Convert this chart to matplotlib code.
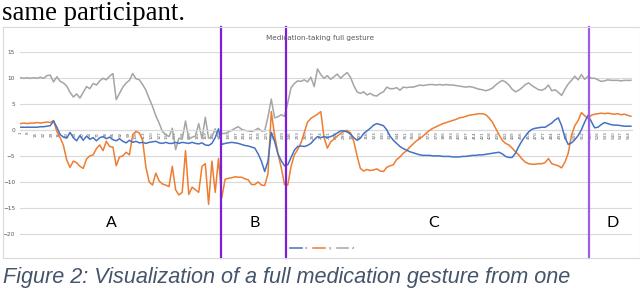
import matplotlib
matplotlib.use("Agg")
import matplotlib.pyplot as plt
import numpy as np
from matplotlib.patches import Rectangle

# accelerometer axes, one reading every 3rd sample of the gesture
acc_x = [0.5, 0.5, 0.5, 0.5, 0.5, 0.5, 0.6, 0.6, 0.7, 0.8,
         1.7, 0.5, -0.9, -1.4, -1.6, -0.5, -1.5, -2.1, -1.1, -2.0,
         -1.2, -1.8, -1.5, -2.1, -1.5, -1.3, -1.7, -1.4, -1.9, -2.1,
         -1.7, -2.2, -2.5, -2.0, -2.4, -2.2, -2.5, -2.4, -2.6, -2.4,
         -2.3, -2.2, -2.5, -2.6, -2.4, -2.6, -2.6, -2.4, -2.6, -2.4,
         -2.5, -2.6, -2.4, -2.6, -2.7, -2.5, -2.9, -3.0, -2.6, -1.5,
         0.2, -2.8, -2.6, -2.5, -2.4, -2.5, -2.6, -2.8, -3.0, -3.1,
         -3.3, -3.5, -4.6, -6.0, -8.0, -6.0, -0.5, -2.2, -4.6, -5.9,
         -6.9, -6.7, -5.3, -3.9, -3.2, -3.1, -3.2, -3.0, -2.6, -1.9,
         -1.3, -1.5, -1.3, -1.5, -1.3, -1.0, -0.6, -0.2, -0.2, -0.4,
         -0.8, -1.5, -2.0, -1.6, -0.7, -0.2, 0.3, 0.9, 1.2, 1.0,
         0.8, 0.0, -1.2, -2.0, -2.6, -3.2, -3.6, -3.9, -4.2, -4.4,
         -4.6, -4.8, -4.9, -4.9, -4.9, -5.0, -5.0, -5.0, -5.1, -5.1,
         -5.1, -5.2, -5.2, -5.2, -5.1, -5.1, -5.0, -4.9, -4.9, -4.8,
         -4.8, -4.7, -4.6, -4.5, -4.4, -4.3, -4.6, -5.1, -5.3, -5.3,
         -4.5, -3.2, -2.1, -1.2, -0.4, 0.1, 0.3, 0.4, 0.5, 0.5,
         0.9, 1.3, 1.9, 2.3, 0.8, -1.5, -2.8, -2.5, -1.9, -1.1,
         0.0, 1.5, 2.8, 1.6, 0.4, 0.5, 1.0, 1.4, 1.2, 1.0,
         0.9, 0.9, 0.8, 0.7, 0.7, 0.7]

acc_y = [1.2, 1.3, 1.2, 1.3, 1.3, 1.4, 1.3, 1.4, 1.5, 1.4,
         1.8, -0.3, -1.5, -3.0, -5.8, -7.2, -6.0, -6.3, -7.0, -7.4,
         -5.6, -5.0, -4.8, -3.6, -2.9, -4.0, -2.2, -3.2, -3.3, -6.9,
         -5.2, -5.0, -4.3, -4.8, -0.9, -0.3, -0.6, -2.0, -7.2, -10.0,
         -10.6, -8.3, -9.8, -10.4, -10.6, -10.9, -7.0, -11.5, -12.5, -12.0,
         -4.0, -12.4, -11.0, -11.5, -12.0, -7.0, -6.5, -14.3, -6.0, -12.0,
         -5.5, -13.0, -9.5, -9.3, -9.2, -9.0, -9.1, -9.1, -9.4, -9.6,
         -10.5, -10.5, -10.0, -10.6, -10.7, -8.4, 3.5, -1.0, -4.5, -7.2,
         -10.5, -10.6, -7.0, -4.8, -3.8, -2.5, -0.5, 1.5, 2.2, 2.6,
         3.0, 3.5, -1.5, -3.5, -2.3, -1.8, -1.2, -0.7, -0.3, -0.1,
         -0.6, -2.2, -5.0, -7.4, -7.9, -7.6, -7.8, -7.7, -7.5, -7.9,
         -8.0, -7.2, -6.9, -6.7, -5.7, -5.2, -4.5, -4.0, -3.3, -2.7,
         -2.1, -1.7, -1.2, -0.6, -0.1, 0.3, 0.6, 0.9, 1.2, 1.4,
         1.6, 1.8, 2.0, 2.3, 2.4, 2.6, 2.8, 2.9, 3.0, 3.1,
         3.1, 2.9, 2.3, 1.5, 0.3, -0.9, -2.0, -2.6, -2.9, -3.5,
         -4.2, -4.8, -5.6, -6.2, -6.5, -6.6, -6.6, -6.5, -6.5, -6.3,
         -5.5, -6.5, -6.7, -6.9, -7.3, -6.2, -4.5, -1.0, 0.8, 1.8,
         3.3, 2.7, 2.2, 2.8, 3.0, 3.1, 3.2, 3.1, 3.2, 3.1,
         3.0, 3.1, 2.9, 3.0, 2.8, 2.6]

acc_z = [10.0, 9.9, 10.0, 9.9, 10.0, 9.9, 10.1, 9.9, 10.4, 10.5,
         9.2, 10.2, 9.3, 9.0, 8.4, 7.2, 6.3, 6.9, 6.1, 7.2,
         8.3, 7.9, 8.9, 8.6, 9.4, 9.9, 9.6, 10.3, 10.8, 5.8,
         7.0, 8.2, 9.0, 9.5, 10.8, 9.8, 9.6, 8.7, 7.6, 6.0,
         4.5, 2.7, 1.3, -0.3, -0.9, -1.3, 0.3, -3.8, -1.6, -1.8,
         1.7, -1.8, -1.4, -1.2, 1.2, -1.7, 2.4, -1.6, -1.4, 0.2,
         -1.7, -0.7, -0.7, -0.4, -0.1, 0.3, 0.6, 0.1, -0.1, -0.2,
         -0.3, -0.1, 0.3, -0.2, -0.2, 2.5, 5.9, 2.3, 2.5, 2.9,
         2.6, 5.2, 8.1, 8.9, 9.4, 9.3, 9.6, 9.2, 10.1, 8.3,
         11.7, 10.6, 9.9, 10.4, 9.7, 10.2, 10.7, 9.9, 10.5, 11.0,
         10.1, 8.5, 7.3, 7.0, 7.3, 6.7, 7.0, 6.6, 6.5, 7.0,
         7.3, 8.2, 7.9, 7.9, 8.1, 7.6, 8.2, 8.1, 8.2, 8.2,
         8.4, 8.6, 8.5, 8.6, 8.7, 8.7, 8.6, 8.7, 8.6, 8.7,
         8.6, 8.6, 8.5, 8.4, 8.3, 8.2, 8.3, 8.2, 8.0, 7.8,
         7.7, 7.5, 7.7, 8.0, 8.6, 9.1, 9.5, 9.2, 8.6, 7.8,
         7.3, 7.6, 8.1, 8.7, 9.0, 8.5, 8.1, 7.7, 7.6, 7.9,
         8.6, 7.5, 7.7, 7.2, 6.6, 7.8, 8.8, 9.5, 10.3, 9.6,
         10.6, 9.7, 10.3, 9.9, 9.9, 9.6, 9.3, 9.4, 9.6, 9.5,
         9.5, 9.5, 9.4, 9.5, 9.5, 9.5]

samples = np.arange(1, 3 * len(acc_x) + 1, 3)

# phase boundaries (sample index) and phase names
boundaries = [183, 242, 518]
phases = ["A", "B", "C", "D"]

x_ticklabels = list(range(1, 557, 7))

C_X, C_Y, C_Z = "#4472C4", "#ED7D31", "#A5A5A5"
GRID = "#D9D9D9"
TXT = "#595959"
W, H = 640, 288

fig = plt.figure(figsize=(6.4, 2.88), dpi=100)
fig.patch.set_facecolor("white")

# chart frame
fig.add_artist(Rectangle((3 / W, 1 - 258 / H), 1 - 3 / W, (258 - 27) / H,
                         transform=fig.transFigure, fill=False,
                         edgecolor=GRID, linewidth=0.8))

ax = fig.add_axes([20 / W, 1 - 258 / H, 612 / W, (258 - 51.7) / H])
ax.set_facecolor("none")

ax.plot(samples, acc_x, color=C_X, lw=1.1, label="x", zorder=4)
ax.plot(samples, acc_y, color=C_Y, lw=1.1, label="y", zorder=3)
ax.plot(samples, acc_z, color=C_Z, lw=1.1, label="z", zorder=2)

ax.set_xlim(0.5, 557)
ax.set_ylim(-24.6, 15)
ax.set_yticks(np.arange(-20, 16, 5))
ax.grid(axis="y", color=GRID, linewidth=0.8)
ax.set_axisbelow(True)
for side in ["top", "right", "left"]:
    ax.spines[side].set_visible(False)
ax.spines["bottom"].set_position(("data", 0))
ax.spines["bottom"].set_color(GRID)
ax.spines["bottom"].set_linewidth(0.8)
ax.tick_params(axis="y", length=0, labelsize=4.2, labelcolor=TXT, pad=3.5)
ax.set_xticks(x_ticklabels)
ax.set_xticklabels([str(v) for v in x_ticklabels], rotation=90)
ax.tick_params(axis="x", length=0, labelsize=3, labelcolor=TXT, pad=1.2)

# phase boundary markers (drawn across the whole chart box)
top_frac = (258 - 27) / (258 - 51.7)
for i, b in enumerate(boundaries):
    col = "#7B1FD8" if i < 2 else "#A05CE8"
    ax.axvline(b, ymin=0, ymax=top_frac, color=col, lw=1.6, clip_on=False, zorder=6)

ax.legend(loc="center", bbox_to_anchor=(322 / W, 1 - 248 / H),
          bbox_transform=fig.transFigure, ncol=3, frameon=False,
          fontsize=3, handlelength=2.8, handletextpad=0.9, columnspacing=1.3,
          labelcolor=TXT)

fig.text(320 / W, 1 - 38 / H, "Medication-taking full gesture",
         ha="center", va="center", fontsize=5.2, color=TXT)

for name, xp in zip(phases, [111.7, 254.3, 433.3, 612.7]):
    fig.text(xp / W, 1 - 223 / H, name, ha="center", va="center",
             fontsize=11.5, family="Lato", color="black")

fig.text(1.5 / W, 1 - 20 / H, "same participant.", ha="left", va="baseline",
         fontsize=19.3, family="Liberation Serif", color="black")
fig.text(3 / W, 1 - 283.5 / H,
         "Figure 2: Visualization of a full medication gesture from one",
         ha="left", va="baseline", fontsize=15.6, family="Liberation Sans",
         style="italic", color="#44546A")

fig.savefig("out.png", dpi=100)
